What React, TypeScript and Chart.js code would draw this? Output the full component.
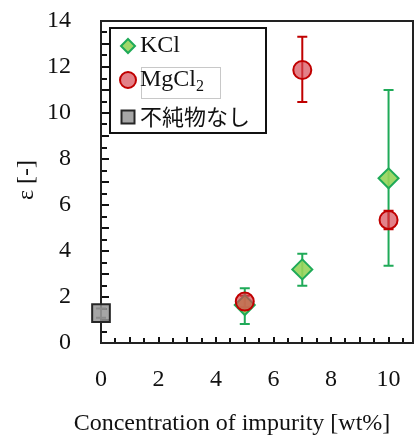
import React, { useEffect, useRef } from "react";
import { Chart, registerables } from "chart.js";

Chart.register(...registerables);

// ---- data ----
const kclX = [5, 7, 10];
const kclY = [1.65, 3.2, 7.16];
const kclLow = [0.83, 2.49, 3.36];
const kclHigh = [2.38, 3.88, 11.0];

const mgX = [5, 7, 10];
const mgY = [1.8, 11.87, 5.35];
const mgLow = [1.55, 10.48, 4.95];
const mgHigh = [2.05, 13.32, 5.75];

const noneX = [0];
const noneY = [1.3];
const noneLow = [1.1];
const noneHigh = [1.5];

const xTickLabels = [0, 2, 4, 6, 8, 10];
const yTickLabels = [0, 2, 4, 6, 8, 10, 12, 14];

const legendLabels = ["KCl", "MgCl", "不純物なし"];
const xTitle = "Concentration of impurity [wt%]";
const yTitle = "ε [-]";

const SERIF = "'Liberation Serif', 'Times New Roman', serif";
const CJK = "'Noto Sans CJK JP', 'Noto Sans', sans-serif";

const GREEN_LINE = "#1FAA58";
const GREEN_FILL = "rgba(150,212,90,0.9)";
const RED_LINE = "#C00000";
const RED_FILL = "rgba(214,70,80,0.68)";
const GRAY_LINE = "#262626";
const GRAY_FILL = "rgba(150,150,150,0.85)";

const pts = (xs: number[], ys: number[]) => xs.map((x, i) => ({ x, y: ys[i] }));

const errorBars = {
  id: "errorBars",
  beforeDatasetsDraw(chart: any) {
    const { ctx, scales } = chart;
    const xs = scales.x;
    const ys = scales.y;
    const groups = [
      { x: noneX, lo: noneLow, hi: noneHigh, c: "#555555" },
      { x: kclX, lo: kclLow, hi: kclHigh, c: GREEN_LINE },
      { x: mgX, lo: mgLow, hi: mgHigh, c: RED_LINE },
    ];
    ctx.save();
    ctx.lineWidth = 2;
    for (const g of groups) {
      ctx.strokeStyle = g.c;
      g.x.forEach((xv, i) => {
        const px = xs.getPixelForValue(xv);
        const y1 = ys.getPixelForValue(g.lo[i]);
        const y2 = ys.getPixelForValue(g.hi[i]);
        ctx.beginPath();
        ctx.moveTo(px, y1);
        ctx.lineTo(px, y2);
        ctx.moveTo(px - 5, y1);
        ctx.lineTo(px + 5, y1);
        ctx.moveTo(px - 5, y2);
        ctx.lineTo(px + 5, y2);
        ctx.stroke();
      });
    }
    ctx.restore();
  },
};

const frameAndTicks = {
  id: "frameAndTicks",
  beforeDatasetsDraw(chart: any) {
    const { ctx, chartArea, scales } = chart;
    const xs = scales.x;
    const ys = scales.y;
    ctx.save();
    ctx.strokeStyle = "#111";
    ctx.lineWidth = 2;
    ctx.beginPath();
    for (let v = 0; v <= 14.001; v += 0.5) {
      const py = Math.round(ys.getPixelForValue(v));
      const len = Number.isInteger(v) ? 8 : 6;
      ctx.moveTo(chartArea.left, py);
      ctx.lineTo(chartArea.left + len, py);
    }
    for (let v = 0.5; v <= 10.8; v += 0.5) {
      const px = Math.round(xs.getPixelForValue(v));
      const len = Number.isInteger(v) ? 6 : 5;
      ctx.moveTo(px, chartArea.bottom);
      ctx.lineTo(px, chartArea.bottom - len);
    }
    ctx.stroke();
    ctx.strokeStyle = "#222";
    ctx.strokeRect(chartArea.left, chartArea.top, chartArea.right - chartArea.left, chartArea.bottom - chartArea.top);
    ctx.restore();
  },
  afterDraw(chart: any) {
    const { ctx } = chart;
    ctx.save();
    ctx.fillStyle = "#111";
    ctx.font = `24px ${SERIF}`;
    ctx.textAlign = "center";
    ctx.textBaseline = "middle";
    ctx.fillText(xTitle, 232, 424);
    ctx.save();
    ctx.translate(27, 180);
    ctx.rotate(-Math.PI / 2);
    ctx.fillText(yTitle, 0, 0);
    ctx.restore();
    ctx.restore();
  },
};

const drawMarker = (ctx: CanvasRenderingContext2D, kind: string, x: number, y: number) => {
  ctx.save();
  ctx.lineWidth = 2;
  ctx.beginPath();
  if (kind === "diamond") {
    const r = 7;
    ctx.moveTo(x, y - r);
    ctx.lineTo(x + r, y);
    ctx.lineTo(x, y + r);
    ctx.lineTo(x - r, y);
    ctx.closePath();
    ctx.fillStyle = GREEN_FILL;
    ctx.strokeStyle = GREEN_LINE;
  } else if (kind === "circle") {
    ctx.arc(x, y, 8, 0, Math.PI * 2);
    ctx.fillStyle = RED_FILL;
    ctx.strokeStyle = RED_LINE;
  } else {
    ctx.rect(x - 6.5, y - 6.5, 13, 13);
    ctx.fillStyle = GRAY_FILL;
    ctx.strokeStyle = GRAY_LINE;
  }
  ctx.fill();
  ctx.stroke();
  ctx.restore();
};

const customLegend = {
  id: "customLegend",
  afterDraw(chart: any) {
    const { ctx } = chart;
    ctx.save();
    ctx.fillStyle = "#fff";
    ctx.fillRect(110, 28, 156, 105);
    ctx.strokeStyle = "#111";
    ctx.lineWidth = 2;
    ctx.strokeRect(110, 28, 156, 105);
    ctx.strokeStyle = "#C8C8C8";
    ctx.lineWidth = 1;
    ctx.strokeRect(141.5, 67.5, 79, 31);

    drawMarker(ctx, "diamond", 128, 46);
    drawMarker(ctx, "circle", 128, 80);
    drawMarker(ctx, "square", 128, 117);

    ctx.fillStyle = "#111";
    ctx.textAlign = "left";
    ctx.textBaseline = "middle";
    ctx.font = `24px ${SERIF}`;
    ctx.fillText(legendLabels[0], 140, 46);
    ctx.fillText(legendLabels[1], 140, 80);
    const w = ctx.measureText(legendLabels[1]).width;
    ctx.font = `16px ${SERIF}`;
    ctx.fillText("2", 140 + w, 87);
    ctx.font = `22px ${CJK}`;
    ctx.fillText(legendLabels[2], 140, 117);
    ctx.restore();
  },
};

export default function App() {
  const ref = useRef<HTMLCanvasElement | null>(null);
  useEffect(() => {
    if (!ref.current) return;
    const chart = new Chart(ref.current, {
      type: "scatter",
      data: {
        datasets: [
          {
            label: "MgCl2",
            data: pts(mgX, mgY),
            pointStyle: "circle",
            pointRadius: 9,
            pointHoverRadius: 9,
            backgroundColor: RED_FILL,
            borderColor: RED_LINE,
            pointBorderWidth: 2,
            clip: false,
          },
          {
            label: "KCl",
            data: pts(kclX, kclY),
            pointStyle: "rectRot",
            pointRadius: 10,
            pointHoverRadius: 10,
            backgroundColor: GREEN_FILL,
            borderColor: GREEN_LINE,
            pointBorderWidth: 2,
            clip: false,
          },
          {
            label: "不純物なし",
            data: pts(noneX, noneY),
            pointStyle: "rect",
            pointRadius: 12.5,
            pointHoverRadius: 12.5,
            backgroundColor: GRAY_FILL,
            borderColor: GRAY_LINE,
            pointBorderWidth: 2,
            clip: false,
          },
        ],
      },
      options: {
        responsive: false,
        animation: false,
        layout: { autoPadding: false, padding: { left: 0, top: 21, right: 4, bottom: 0 } },
        plugins: { legend: { display: false }, tooltip: { enabled: false } },
        scales: {
          x: {
            type: "linear",
            min: 0,
            max: 10.85,
            grid: { display: false, drawTicks: false },
            border: { display: false },
            afterFit: (s: any) => {
              s.height = 96;
              s.paddingLeft = 0;
              s.paddingRight = 0;
            },
            afterBuildTicks: (s: any) => {
              s.ticks = xTickLabels.map((v) => ({ value: v }));
            },
            ticks: {
              padding: 22,
              color: "#111",
              font: { family: SERIF, size: 24 },
              maxRotation: 0,
            },
          },
          y: {
            type: "linear",
            min: 0,
            max: 14,
            grid: { display: false, drawTicks: false },
            border: { display: false },
            afterFit: (s: any) => {
              s.width = 101;
              s.paddingTop = 0;
              s.paddingBottom = 0;
            },
            afterBuildTicks: (s: any) => {
              s.ticks = yTickLabels.map((v) => ({ value: v }));
            },
            ticks: {
              padding: 30,
              color: "#111",
              font: { family: SERIF, size: 24 },
            },
          },
        },
      },
      plugins: [frameAndTicks, errorBars, customLegend],
    });
    return () => chart.destroy();
  }, []);
  return (
    <div style={{ position: "fixed", left: 0, top: 0, width: 417, height: 439, background: "#fff" }}>
      <canvas ref={ref} width={417} height={439} style={{ display: "block", width: 417, height: 439 }} />
    </div>
  );
}
